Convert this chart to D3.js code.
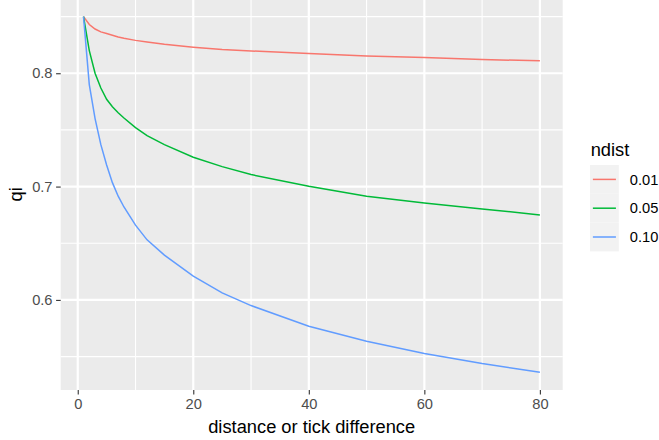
<!DOCTYPE html>
<html>
<head>
<meta charset="utf-8">
<script src="https://cdn.jsdelivr.net/npm/d3@7"></script>
<style>
  body { margin: 0; background: #fff; }
  svg { display: block; font-family: 'Liberation Sans', Arial, sans-serif; }
</style>
</head>
<body>
<svg id="chart"></svg>
<script>
// values
var distance = [1, 2, 3, 4, 5, 6, 7, 8, 10, 12, 15, 20, 25, 30, 40, 50, 60, 70, 80];
var qi001 = [0.85, 0.843, 0.839, 0.8365, 0.835, 0.8335, 0.832, 0.8308, 0.829, 0.8275, 0.8255, 0.823, 0.821, 0.8197, 0.8174, 0.8153, 0.8139, 0.8121, 0.811];
var qi005 = [0.85, 0.82, 0.80, 0.787, 0.777, 0.7705, 0.7652, 0.7605, 0.752, 0.745, 0.737, 0.7259, 0.7176, 0.7106, 0.7003, 0.6915, 0.6856, 0.6803, 0.675];
var qi010 = [0.85, 0.79, 0.76, 0.737, 0.719, 0.7035, 0.6915, 0.682, 0.666, 0.653, 0.6395, 0.6209, 0.6062, 0.595, 0.5768, 0.5635, 0.5527, 0.5438, 0.5362];
var ndist = ['0.01', '0.05', '0.10'];
var colors = ['#F8766D', '#00BA38', '#619CFF'];
var xTicks = [0, 20, 40, 60, 80];
var xMinor = [10, 30, 50, 70];
var yTicks = [0.6, 0.7, 0.8];
var yMinor = [0.55, 0.65, 0.75, 0.85];

var width = 659;
var height = 440;

var panel = { left: 60.7, right: 562.7, top: -1.2, bottom: 390 };

var series = [qi001, qi005, qi010].map(function (vals, i) {
  return {
    name: ndist[i],
    color: colors[i],
    values: vals.map(function (v, j) {
      return { x: distance[j], y: v };
    }),
  };
});

// ggplot style 5% expansion
function expand(ext) {
  var pad = (ext[1] - ext[0]) * 0.05;
  return [ext[0] - pad, ext[1] + pad];
}

var allY = qi001.concat(qi005, qi010);

var x = d3
  .scaleLinear()
  .domain(expand(d3.extent(distance)))
  .range([panel.left, panel.right]);

var y = d3
  .scaleLinear()
  .domain(expand(d3.extent(allY)))
  .range([panel.bottom, panel.top]);

var svg = d3.select('#chart').attr('width', width).attr('height', height);

svg
  .append('rect')
  .attr('x', panel.left)
  .attr('y', panel.top)
  .attr('width', panel.right - panel.left)
  .attr('height', panel.bottom - panel.top)
  .attr('fill', '#EBEBEB');

var grid = svg.append('g').attr('class', 'grid');

grid
  .selectAll('line.xminor')
  .data(xMinor)
  .enter()
  .append('line')
  .attr('x1', function (d) { return x(d); })
  .attr('x2', function (d) { return x(d); })
  .attr('y1', panel.top)
  .attr('y2', panel.bottom)
  .attr('stroke', '#fff')
  .attr('stroke-width', 1.1);

grid
  .selectAll('line.yminor')
  .data(yMinor)
  .enter()
  .append('line')
  .attr('y1', function (d) { return y(d); })
  .attr('y2', function (d) { return y(d); })
  .attr('x1', panel.left)
  .attr('x2', panel.right)
  .attr('stroke', '#fff')
  .attr('stroke-width', 1.1);

grid
  .selectAll('line.xmajor')
  .data(xTicks)
  .enter()
  .append('line')
  .attr('x1', function (d) { return x(d); })
  .attr('x2', function (d) { return x(d); })
  .attr('y1', panel.top)
  .attr('y2', panel.bottom)
  .attr('stroke', '#fff')
  .attr('stroke-width', 2.2);

grid
  .selectAll('line.ymajor')
  .data(yTicks)
  .enter()
  .append('line')
  .attr('y1', function (d) { return y(d); })
  .attr('y2', function (d) { return y(d); })
  .attr('x1', panel.left)
  .attr('x2', panel.right)
  .attr('stroke', '#fff')
  .attr('stroke-width', 2.2);

var line = d3
  .line()
  .x(function (d) { return x(d.x); })
  .y(function (d) { return y(d.y); });

svg
  .append('g')
  .attr('class', 'lines')
  .selectAll('path')
  .data(series)
  .enter()
  .append('path')
  .attr('d', function (d) { return line(d.values); })
  .attr('fill', 'none')
  .attr('stroke', function (d) { return d.color; })
  .attr('stroke-width', 1.5);

// axes
var xAxis = svg
  .append('g')
  .attr('transform', 'translate(0,' + panel.bottom + ')')
  .call(d3.axisBottom(x).tickValues(xTicks).tickSize(4.6).tickPadding(3.5).tickFormat(d3.format('d')));

var yAxis = svg
  .append('g')
  .attr('transform', 'translate(' + panel.left + ',0)')
  .call(d3.axisLeft(y).tickValues(yTicks).tickSize(4.6).tickPadding(3.6).tickFormat(d3.format('.1f')));

[xAxis, yAxis].forEach(function (ax) {
  ax.select('.domain').remove();
  ax.selectAll('.tick line').attr('stroke', '#333333').attr('stroke-width', 1.1);
  ax.selectAll('.tick text')
    .attr('fill', '#4D4D4D')
    .style('font-size', '14.67px')
    .style('font-family', "'Liberation Sans', Arial, sans-serif");
});

svg
  .append('text')
  .attr('x', (panel.left + panel.right) / 2)
  .attr('y', 433)
  .attr('text-anchor', 'middle')
  .style('font-size', '18.3px')
  .attr('fill', '#000')
  .text('distance or tick difference');

svg
  .append('text')
  .attr('transform', 'translate(22,' + (panel.top + panel.bottom) / 2 + ') rotate(-90)')
  .attr('text-anchor', 'middle')
  .style('font-size', '18.3px')
  .attr('fill', '#000')
  .text('qi');

// legend
var legend = svg.append('g').attr('transform', 'translate(590,165)');
var keySize = 28.8;

legend
  .append('text')
  .attr('x', 0.7)
  .attr('y', -9)
  .style('font-size', '18.3px')
  .attr('fill', '#000')
  .text('ndist');

var keys = legend
  .selectAll('g.key')
  .data(series)
  .enter()
  .append('g')
  .attr('class', 'key')
  .attr('transform', function (d, i) {
    return 'translate(0,' + i * keySize + ')';
  });

keys
  .append('rect')
  .attr('width', keySize)
  .attr('height', keySize)
  .attr('fill', '#F2F2F2');

keys
  .append('line')
  .attr('x1', keySize * 0.1)
  .attr('x2', keySize * 0.9)
  .attr('y1', keySize / 2)
  .attr('y2', keySize / 2)
  .attr('stroke', function (d) { return d.color; })
  .attr('stroke-width', 1.5);

keys
  .append('text')
  .attr('x', keySize + 11)
  .attr('y', keySize / 2 + 5.2)
  .style('font-size', '14.67px')
  .attr('fill', '#000')
  .text(function (d) { return d.name; });
</script>
</body>
</html>
